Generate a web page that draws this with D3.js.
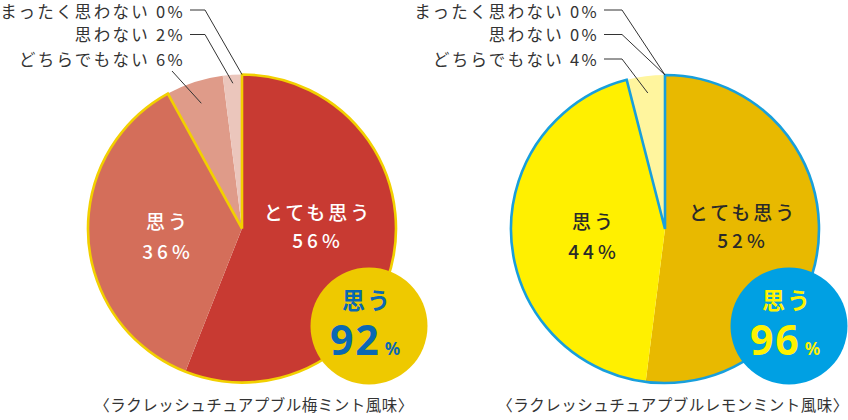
<!DOCTYPE html>
<html><head><meta charset="utf-8">
<script src="https://cdn.jsdelivr.net/npm/d3@7"></script>
<style>
html,body{margin:0;padding:0;background:#fff;}
svg{display:block;font-family:"Noto Sans CJK JP","Noto Sans",sans-serif;}
</style></head>
<body><svg id="c" width="848" height="420"></svg>
<script>
// Data
const categories = ["とても思う","思う","どちらでもない","思わない","まったく思わない"];
const umeValues = [56, 36, 6, 2, 0];
const lemonValues = [52, 44, 4, 0, 0];
const titles = ["〈ラクレッシュチュアプブル梅ミント風味〉","〈ラクレッシュチュアプブルレモンミント風味〉"];
const agreeTotals = [92, 96];

const charts = [
  {values: umeValues, title: titles[0], total: agreeTotals[0], cx: 242, cy: 228.5,
   colors: ["#c83a32","#d46e5a","#df9b89","#ebc6bc","#f3dcd5"], stroke: "#f2d000",
   inText: "#ffffff", badgeFill: "#eec900", badgeText: "#0a68b4",
   labelX: 185, lx1: 190, lx2: 205, horiz: [true,true,false], leadR: [0.92, 0.945, 0.855],
   inner: [{x:318, y:[220,248]},{x:168,y:[229,259]}], badge:{x:369,y:326},
   titleX: 254},
  {values: lemonValues, title: titles[1], total: agreeTotals[1], cx: 665, cy: 229,
   colors: ["#e8b900","#fff000","#fff59e","#fffbd0","#fffde8"], stroke: "#189fdc",
   inText: "#2a2a2a", badgeFill: "#00a0e3", badgeText: "#fff100",
   labelX: 599, lx1: 604, lx2: 622, horiz: [true,true,true], leadR: [0.9, 0.9, 0.89],
   inner: [{x:743, y:[220,248]},{x:594,y:[229,259]}], badge:{x:789,y:326},
   titleX: 673}
];

const svg = d3.select("#c");
const R = 154;

charts.forEach(ch => {
  const g = svg.append("g").attr("transform", `translate(${ch.cx},${ch.cy})`);
  const pie = d3.pie().sort(null).value(d => d)(ch.values);
  const arc = d3.arc().innerRadius(0).outerRadius(R);
  g.selectAll("path.slice").data(pie).join("path").attr("class","slice")
    .attr("d", arc).attr("fill", (d,i) => ch.colors[i]);
  // outline of agree group
  const endA = pie[1].endAngle;
  g.append("path").attr("d", d3.arc().innerRadius(0).outerRadius(R)({startAngle:0,endAngle:endA}))
    .attr("fill","none").attr("stroke", ch.stroke).attr("stroke-width",2.6).attr("stroke-linejoin","miter");

  // inner labels
  [0,1].forEach(i => {
    const lab = ch.inner[i];
    const t = svg.append("text").attr("text-anchor","middle").attr("fill", ch.inText)
      .attr("font-size", 19).attr("font-weight", 500).attr("letter-spacing", 3);
    t.append("tspan").attr("x", lab.x).attr("y", lab.y[0]).text(categories[i]);
    t.append("tspan").attr("x", lab.x).attr("y", lab.y[1]).attr("letter-spacing", 4).text(ch.values[i] + "%");
  });

  // outside labels for small slices (order: まったく, 思わない, どちらでもない)
  const order = [4,3,2];
  const ys = [10, 34.5, 59];
  order.forEach((ci, k) => {
    const y = ys[k];
    svg.append("text").attr("x", ch.labelX).attr("y", y + (k === 0 ? 7.5 : 6.5)).attr("text-anchor","end")
      .attr("fill","#333").attr("font-size",16.5).attr("letter-spacing",2.3)
      .text(categories[ci] + " " + ch.values[ci] + "%");
    const d = pie[ci];
    const mid = ch.values[ci] === 0 ? 0 : (d.startAngle + d.endAngle)/2;
    const rr = ch.values[ci] === 0 ? R : R*ch.leadR[k];
    const ex = ch.cx + rr*Math.sin(mid), ey = ch.cy - rr*Math.cos(mid);
    let pts;
    if (ch.horiz[k]) pts = [[ch.lx1,y],[ch.lx2,y],[ex,ey]];
    else pts = [[172,71],[ex,ey]];
    svg.append("path").attr("d", d3.line()(pts)).attr("fill","none")
      .attr("stroke","#333").attr("stroke-width",1);
  });

  // badge
  const b = svg.append("g").attr("transform", `translate(${ch.badge.x},${ch.badge.y})`);
  b.append("circle").attr("r",58.5).attr("fill", ch.badgeFill);
  b.append("text").attr("text-anchor","middle").attr("fill",ch.badgeText).attr("font-weight",700)
    .attr("x",-2).attr("y",-17).attr("font-size",23).attr("letter-spacing",2).text("思う");
  const t2 = b.append("text").attr("text-anchor","middle").attr("fill",ch.badgeText).attr("font-weight",700)
    .attr("font-family","'Noto Sans',Roboto,sans-serif").attr("x",-4).attr("y",29);
  t2.append("tspan").attr("font-size",41).attr("letter-spacing",2).text(ch.total);
  t2.append("tspan").attr("font-size",17).attr("dx",4).text("%");

  // title
  svg.append("text").attr("x", ch.titleX).attr("y", 411).attr("text-anchor","middle")
    .attr("fill","#333").attr("font-size",15.5).attr("letter-spacing",0.5).text(ch.title);
});
</script></body></html>
